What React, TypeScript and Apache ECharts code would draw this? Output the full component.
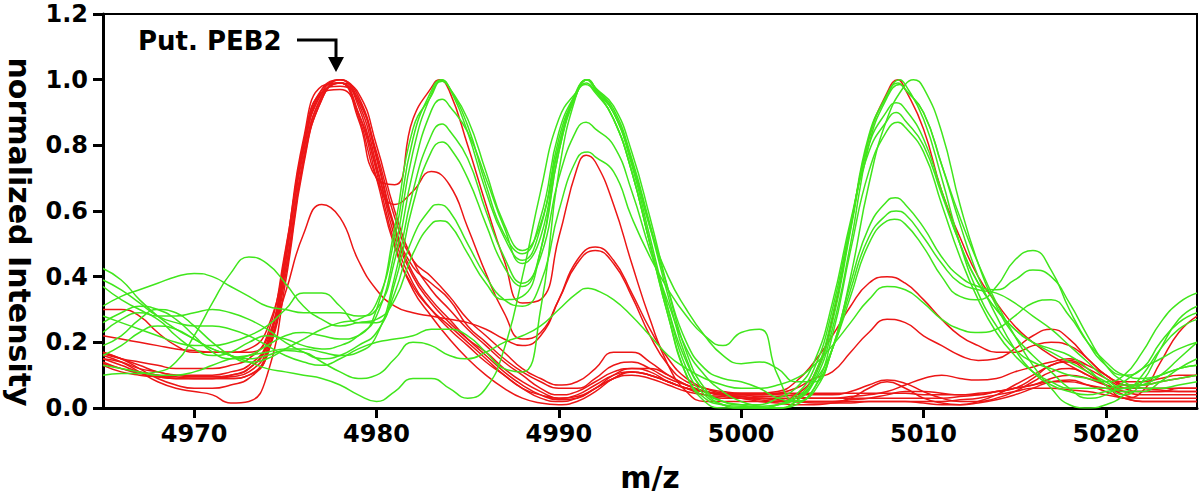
import React, { useEffect, useRef } from "react";
import * as echarts from "echarts";

const mzMin = 4965;
const mzMax = 5025;
const mzTicks = [4970, 4980, 4990, 5000, 5010, 5020];
const intensityTicks = [0, 0.2, 0.4, 0.6, 0.8, 1.0, 1.2];
// sampling grid of the spectra: one point per m/z unit from 4965 to 5025
const mz: number[] = [];
for (let v = mzMin; v <= mzMax; v += 1) mz.push(v);

// red spectra (values on the m/z grid)
const red1 = [0.30,0.30,0.28,0.23,0.19,0.17,0.17,0.17,0.18,0.24,
  0.46,0.79,0.96,1.00,0.94,0.78,0.58,0.45,0.40,0.34,
  0.27,0.22,0.17,0.12,0.09,0.07,0.08,0.12,0.17,0.17,
  0.14,0.10,0.07,0.05,0.04,0.04,0.035,0.035,0.04,0.04,
  0.04,0.05,0.07,0.085,0.075,0.05,0.03,0.02,0.02,0.03,
  0.05,0.08,0.11,0.12,0.10,0.07,0.05,0.04,0.04,0.04,0.04];
const red2 = [0.135,0.12,0.105,0.095,0.09,0.09,0.09,0.09,0.10,0.17,
  0.42,0.76,0.95,0.99,0.93,0.74,0.52,0.38,0.30,0.24,
  0.19,0.14,0.10,0.06,0.04,0.03,0.04,0.07,0.10,0.11,
  0.10,0.08,0.06,0.05,0.04,0.035,0.03,0.03,0.03,0.03,
  0.03,0.035,0.04,0.05,0.07,0.09,0.10,0.09,0.085,0.09,
  0.11,0.125,0.14,0.15,0.13,0.10,0.07,0.07,0.08,0.09,0.10];
const red3 = [0.17,0.15,0.12,0.09,0.07,0.06,0.06,0.07,0.09,0.16,
  0.40,0.75,0.94,1.00,0.95,0.77,0.55,0.41,0.33,0.27,
  0.21,0.16,0.11,0.07,0.04,0.025,0.03,0.06,0.09,0.10,
  0.09,0.07,0.05,0.04,0.03,0.03,0.025,0.02,0.02,0.02,
  0.02,0.025,0.03,0.04,0.05,0.05,0.045,0.04,0.04,0.05,
  0.06,0.09,0.13,0.14,0.11,0.07,0.04,0.03,0.03,0.03,0.03];
const red4 = [0.16,0.14,0.11,0.08,0.06,0.05,0.04,0.015,0.02,0.10,
  0.38,0.74,0.94,0.99,0.96,0.80,0.60,0.45,0.36,0.30,
  0.24,0.19,0.14,0.10,0.06,0.04,0.05,0.08,0.11,0.12,
  0.11,0.08,0.06,0.04,0.035,0.03,0.03,0.025,0.02,0.02,
  0.02,0.03,0.06,0.08,0.06,0.03,0.015,0.01,0.015,0.025,
  0.04,0.06,0.08,0.085,0.07,0.05,0.03,0.02,0.02,0.02,0.02];
const red5 = [0.15,0.13,0.11,0.10,0.09,0.09,0.09,0.09,0.10,0.16,
  0.44,0.80,0.97,1.00,0.92,0.72,0.50,0.36,0.28,0.21,
  0.15,0.10,0.06,0.03,0.015,0.01,0.02,0.05,0.09,0.11,
  0.10,0.08,0.06,0.05,0.04,0.04,0.04,0.04,0.035,0.03,
  0.03,0.03,0.03,0.03,0.03,0.03,0.03,0.035,0.04,0.05,
  0.06,0.07,0.08,0.08,0.07,0.06,0.05,0.05,0.05,0.05,0.05];
const red6 = [0.14,0.12,0.11,0.10,0.095,0.09,0.09,0.095,0.11,0.18,
  0.47,0.82,0.98,0.99,0.90,0.70,0.49,0.37,0.30,0.25,
  0.20,0.15,0.10,0.06,0.03,0.02,0.03,0.06,0.10,0.12,
  0.12,0.10,0.07,0.05,0.04,0.035,0.03,0.025,0.02,0.015,
  0.015,0.015,0.02,0.02,0.02,0.015,0.01,0.01,0.02,0.04,
  0.07,0.10,0.13,0.145,0.12,0.09,0.06,0.05,0.05,0.06,0.06];
const red7 = [0.13,0.11,0.10,0.095,0.09,0.09,0.09,0.10,0.12,0.19,
  0.45,0.78,0.96,0.98,0.94,0.76,0.54,0.40,0.32,0.26,
  0.21,0.17,0.12,0.08,0.05,0.03,0.035,0.06,0.09,0.11,
  0.10,0.08,0.06,0.05,0.045,0.045,0.045,0.045,0.045,0.045,
  0.045,0.045,0.045,0.045,0.045,0.04,0.04,0.04,0.045,0.05,
  0.06,0.07,0.09,0.10,0.09,0.07,0.06,0.06,0.06,0.06,0.06];
const red8 = [0.165,0.15,0.14,0.13,0.12,0.12,0.12,0.13,0.15,0.22,
  0.48,0.80,0.96,0.97,0.90,0.73,0.55,0.43,0.38,0.33,
  0.25,0.20,0.15,0.11,0.08,0.06,0.06,0.09,0.13,0.14,
  0.12,0.09,0.07,0.05,0.04,0.03,0.02,0.015,0.01,0.01,
  0.015,0.02,0.02,0.02,0.02,0.02,0.02,0.025,0.03,0.04,
  0.05,0.06,0.06,0.055,0.05,0.04,0.03,0.02,0.02,0.02,0.02];
const red9 = [0.17,0.15,0.13,0.11,0.10,0.095,0.095,0.10,0.12,0.19,
  0.35,0.53,0.62,0.58,0.45,0.36,0.31,0.29,0.28,0.27,
  0.26,0.24,0.21,0.19,0.22,0.33,0.45,0.49,0.45,0.35,
  0.24,0.15,0.09,0.06,0.045,0.04,0.04,0.045,0.06,0.09,
  0.11,0.17,0.23,0.27,0.26,0.22,0.19,0.16,0.145,0.15,
  0.18,0.22,0.24,0.21,0.15,0.10,0.07,0.06,0.055,0.05,0.05];
const red10 = [0.22,0.21,0.20,0.19,0.18,0.175,0.17,0.17,0.17,0.21,
  0.42,0.76,0.95,0.99,0.88,0.70,0.68,0.88,0.975,0.965,
  0.80,0.62,0.45,0.32,0.33,0.52,0.73,0.75,0.62,0.44,
  0.27,0.13,0.05,0.02,0.02,0.02,0.02,0.02,0.04,0.10,
  0.27,0.55,0.82,0.96,0.97,0.85,0.66,0.52,0.40,0.32,
  0.25,0.20,0.16,0.13,0.10,0.07,0.03,0.05,0.14,0.23,0.28];
const red11 = [0.15,0.14,0.12,0.11,0.10,0.10,0.10,0.11,0.13,0.20,
  0.46,0.81,0.97,0.99,0.89,0.70,0.62,0.66,0.72,0.68,
  0.55,0.41,0.29,0.21,0.23,0.33,0.44,0.48,0.44,0.34,
  0.22,0.13,0.08,0.06,0.05,0.045,0.045,0.05,0.08,0.14,
  0.22,0.31,0.38,0.40,0.38,0.33,0.27,0.22,0.19,0.17,
  0.17,0.19,0.20,0.19,0.15,0.10,0.08,0.08,0.09,0.10,0.10];

// green spectra (values on the m/z grid)
const green1 = [0.26,0.29,0.31,0.30,0.27,0.22,0.17,0.15,0.16,0.19,
  0.22,0.23,0.22,0.21,0.22,0.30,0.55,0.85,0.95,0.975,
  0.84,0.66,0.52,0.45,0.55,0.82,0.965,0.97,0.88,0.72,
  0.50,0.28,0.10,0.03,0.01,0.005,0.005,0.01,0.03,0.10,
  0.28,0.55,0.83,0.95,0.985,0.88,0.70,0.50,0.35,0.25,
  0.18,0.14,0.12,0.10,0.09,0.08,0.10,0.17,0.26,0.32,0.35];
const green2 = [0.19,0.22,0.27,0.30,0.29,0.25,0.20,0.16,0.14,0.15,
  0.18,0.21,0.24,0.26,0.27,0.32,0.52,0.82,0.965,0.975,
  0.86,0.68,0.53,0.47,0.58,0.84,0.965,0.975,0.90,0.74,
  0.52,0.30,0.12,0.04,0.01,0.0,0.0,0.01,0.04,0.12,
  0.30,0.56,0.80,0.905,0.91,0.82,0.66,0.50,0.38,0.30,
  0.24,0.20,0.18,0.16,0.12,0.07,0.04,0.08,0.18,0.27,0.31];
const green3 = [0.23,0.27,0.29,0.27,0.22,0.18,0.16,0.17,0.20,0.22,
  0.21,0.19,0.18,0.19,0.22,0.28,0.48,0.78,0.955,0.975,
  0.88,0.72,0.56,0.48,0.56,0.80,0.96,0.965,0.90,0.75,
  0.55,0.34,0.15,0.05,0.02,0.01,0.0,0.0,0.02,0.08,
  0.24,0.50,0.80,0.945,0.97,0.90,0.74,0.56,0.40,0.28,
  0.18,0.11,0.07,0.05,0.04,0.05,0.06,0.08,0.10,0.12,0.13];
const green4 = [0.31,0.34,0.36,0.38,0.40,0.41,0.40,0.37,0.34,0.31,
  0.30,0.29,0.29,0.29,0.28,0.30,0.45,0.72,0.905,0.92,
  0.84,0.70,0.55,0.44,0.52,0.80,0.965,0.975,0.92,0.78,
  0.58,0.36,0.17,0.06,0.02,0.01,0.01,0.03,0.06,0.14,
  0.32,0.57,0.78,0.875,0.875,0.80,0.65,0.50,0.38,0.30,
  0.24,0.20,0.17,0.14,0.11,0.08,0.05,0.05,0.08,0.12,0.15];
const green5 = [0.13,0.12,0.11,0.10,0.10,0.11,0.13,0.15,0.16,0.17,
  0.18,0.18,0.17,0.16,0.17,0.22,0.40,0.66,0.83,0.845,
  0.76,0.60,0.46,0.38,0.46,0.70,0.85,0.85,0.80,0.66,
  0.48,0.32,0.18,0.10,0.05,0.02,0.005,0.0,0.01,0.06,
  0.18,0.40,0.68,0.88,0.985,0.975,0.84,0.62,0.44,0.31,
  0.22,0.16,0.11,0.06,0.03,0.04,0.08,0.12,0.15,0.18,0.20];
const green6 = [0.28,0.26,0.24,0.22,0.20,0.19,0.19,0.20,0.22,0.25,
  0.30,0.35,0.35,0.31,0.26,0.26,0.38,0.62,0.78,0.795,
  0.70,0.56,0.43,0.37,0.48,0.78,0.97,0.975,0.91,0.76,
  0.56,0.36,0.20,0.12,0.09,0.08,0.06,0.03,0.02,0.06,
  0.22,0.48,0.72,0.845,0.855,0.78,0.62,0.46,0.33,0.23,
  0.16,0.11,0.08,0.06,0.06,0.06,0.07,0.07,0.08,0.09,0.10];
const green7 = [0.37,0.33,0.30,0.28,0.28,0.29,0.30,0.29,0.27,0.24,
  0.20,0.17,0.15,0.16,0.19,0.23,0.35,0.52,0.61,0.60,
  0.50,0.40,0.33,0.31,0.38,0.60,0.76,0.765,0.72,0.58,
  0.46,0.36,0.28,0.22,0.19,0.23,0.24,0.10,0.02,0.05,
  0.18,0.38,0.55,0.63,0.62,0.55,0.46,0.40,0.37,0.36,
  0.39,0.42,0.40,0.32,0.22,0.13,0.08,0.06,0.06,0.07,0.08];
const green8 = [0.10,0.105,0.105,0.11,0.14,0.22,0.32,0.41,0.46,0.44,
  0.38,0.31,0.27,0.25,0.26,0.27,0.33,0.47,0.56,0.56,
  0.47,0.38,0.33,0.34,0.48,0.78,0.96,0.975,0.90,0.75,
  0.55,0.40,0.30,0.22,0.16,0.135,0.14,0.12,0.08,0.08,
  0.18,0.36,0.52,0.59,0.59,0.52,0.44,0.38,0.36,0.35,
  0.32,0.28,0.24,0.19,0.14,0.09,0.06,0.07,0.10,0.15,0.20];
const green9 = [0.39,0.36,0.32,0.28,0.26,0.25,0.25,0.24,0.22,0.19,
  0.16,0.14,0.13,0.15,0.18,0.20,0.21,0.22,0.24,0.24,
  0.22,0.17,0.12,0.11,0.30,0.72,0.96,0.97,0.88,0.72,
  0.50,0.30,0.14,0.05,0.01,0.0,0.0,0.01,0.03,0.08,
  0.18,0.34,0.50,0.57,0.56,0.49,0.40,0.34,0.33,0.37,
  0.45,0.48,0.42,0.30,0.20,0.13,0.10,0.12,0.20,0.26,0.29];
const green10 = [0.16,0.19,0.23,0.25,0.24,0.21,0.18,0.16,0.15,0.16,
  0.175,0.17,0.14,0.11,0.09,0.10,0.15,0.20,0.19,0.16,
  0.15,0.17,0.20,0.22,0.25,0.30,0.35,0.36,0.33,0.28,
  0.22,0.16,0.12,0.09,0.07,0.06,0.06,0.07,0.09,0.13,
  0.19,0.26,0.33,0.37,0.36,0.32,0.27,0.24,0.23,0.24,
  0.28,0.32,0.33,0.28,0.20,0.14,0.10,0.09,0.10,0.12,0.13];
const green11 = [0.425,0.39,0.33,0.28,0.24,0.21,0.18,0.16,0.14,0.12,
  0.11,0.10,0.09,0.07,0.04,0.02,0.05,0.09,0.09,0.06,
  0.03,0.06,0.18,0.40,0.66,0.88,0.965,0.96,0.88,0.72,
  0.50,0.28,0.10,0.02,0.0,0.0,0.0,0.0,0.02,0.09,
  0.26,0.54,0.82,0.955,0.97,0.90,0.74,0.58,0.44,0.32,
  0.22,0.13,0.06,0.01,0.0,0.01,0.04,0.10,0.18,0.24,0.27];

// apex points of the main peaks that fall between grid points: [m/z, intensity]
const red10Apex = [[4983.45, 1.0], [4991.5, 0.77], [5008.6, 1.0]];
const green1Apex = [[4983.6, 1.0], [4991.5, 1.0], [5008.7, 1.0]];
const green2Apex = [[4983.55, 1.0], [4991.55, 1.0], [5008.5, 0.93]];
const green3Apex = [[4983.6, 0.995], [4991.5, 0.99], [5008.7, 0.985]];
const green4Apex = [[4983.6, 0.94], [4991.55, 1.0], [5008.5, 0.9]];
const green5Apex = [[4983.6, 0.865], [4991.5, 0.87], [5009.45, 1.0]];
const green6Apex = [[4983.6, 0.81], [4991.6, 1.0], [5008.6, 0.87]];
const green7Apex = [[4983.4, 0.62], [4991.6, 0.78], [5008.45, 0.64]];
const green8Apex = [[4983.5, 0.57], [4991.6, 1.0], [5008.5, 0.6]];
const green9Apex = [[4991.55, 1.0], [5008.4, 0.575]];
const green10Apex = [[4991.6, 0.365]];
const green11Apex = [[4991.45, 0.985], [5008.6, 0.99]];

const redSpectra: [number[], number[][]][] = [
  [red1, []], [red2, []], [red3, []], [red4, []], [red5, []], [red6, []],
  [red7, []], [red8, []], [red9, []], [red10, red10Apex], [red11, []],
];
const greenSpectra: [number[], number[][]][] = [
  [green1, green1Apex], [green2, green2Apex], [green3, green3Apex], [green4, green4Apex],
  [green5, green5Apex], [green6, green6Apex], [green7, green7Apex], [green8, green8Apex],
  [green9, green9Apex], [green10, green10Apex], [green11, green11Apex],
];

const RED = "#ec1616";
const GREEN = "#40e61c";
const FONT = "DejaVu Sans";

function toSeries(values: number[], apex: number[][], color: string, name: string) {
  const pts: number[][] = values.map((y, i) => [mz[i], y]);
  apex.forEach((p) => pts.push([p[0], p[1]]));
  pts.sort((a, b) => a[0] - b[0]);
  return {
    type: "line",
    name,
    data: pts,
    smooth: 0.5,
    symbol: "none",
    lineStyle: { color, width: 1.5 },
    clip: true,
    silent: true,
  };
}

export default function App() {
  const ref = useRef<HTMLDivElement>(null);
  useEffect(() => {
    if (!ref.current) return;
    const chart = echarts.init(ref.current, undefined, { renderer: "svg" });
    const series = [
      ...redSpectra.map(([s, a], i) => toSeries(s, a, RED, "red" + (i + 1))),
      ...greenSpectra.map(([s, a], i) => toSeries(s, a, GREEN, "green" + (i + 1))),
    ];
    chart.setOption({
      animation: false,
      grid: {
        left: 103,
        right: 3,
        top: 14,
        bottom: 88,
        containLabel: false,
        outerBoundsMode: "none",
        show: true,
        borderColor: "#000",
        borderWidth: 2,
      },
      xAxis: {
        type: "value",
        min: mzMin,
        max: mzMax,
        axisLine: { show: true, onZero: false, lineStyle: { color: "#000", width: 3 } },
        axisTick: { show: true, customValues: mzTicks, length: 10, lineStyle: { color: "#000", width: 3 } },
        axisLabel: {
          customValues: mzTicks,
          color: "#000",
          fontFamily: FONT,
          fontWeight: "bold",
          fontSize: 24,
          margin: 14,
          formatter: (v: number) => String(v),
        },
        splitLine: { show: false },
        name: "m/z",
        nameLocation: "middle",
        nameGap: 54,
        nameTextStyle: { color: "#000", fontFamily: FONT, fontWeight: "bold", fontSize: 30 },
      },
      yAxis: {
        type: "value",
        min: intensityTicks[0],
        max: intensityTicks[intensityTicks.length - 1],
        interval: 0.2,
        axisLine: { show: true, lineStyle: { color: "#000", width: 3 } },
        axisTick: { show: true, length: 10, lineStyle: { color: "#000", width: 3 } },
        axisLabel: {
          color: "#000",
          fontFamily: FONT,
          fontWeight: "bold",
          fontSize: 24,
          margin: 15,
          formatter: (v: number) => v.toFixed(1),
        },
        splitLine: { show: false },
      },
      graphic: [
        {
          type: "text",
          x: 19,
          y: 232,
          rotation: -Math.PI / 2,
          style: {
            text: "normalized Intensity",
            fill: "#000",
            font: `bold 30px "${FONT}"`,
            align: "center",
            verticalAlign: "middle",
            textAlign: "center",
            textVerticalAlign: "middle",
          },
        },
        {
          type: "text",
          x: 138,
          y: 41,
          style: {
            text: "Put. PEB2",
            fill: "#000",
            font: `bold 26px "${FONT}"`,
            align: "left",
            verticalAlign: "middle",
            textAlign: "left",
            textVerticalAlign: "middle",
          },
        },
        {
          type: "polyline",
          shape: { points: [[297, 40], [336, 40], [336, 60]] },
          style: { stroke: "#000", lineWidth: 3, fill: null },
        },
        {
          type: "polygon",
          shape: { points: [[328, 57], [344, 57], [336, 72]] },
          style: { fill: "#000" },
        },
      ],
      series,
    });
    return () => chart.dispose();
  }, []);
  return (
    <div
      ref={ref}
      style={{ position: "fixed", left: 0, top: 0, width: 1200, height: 496, background: "#fff" }}
    />
  );
}
